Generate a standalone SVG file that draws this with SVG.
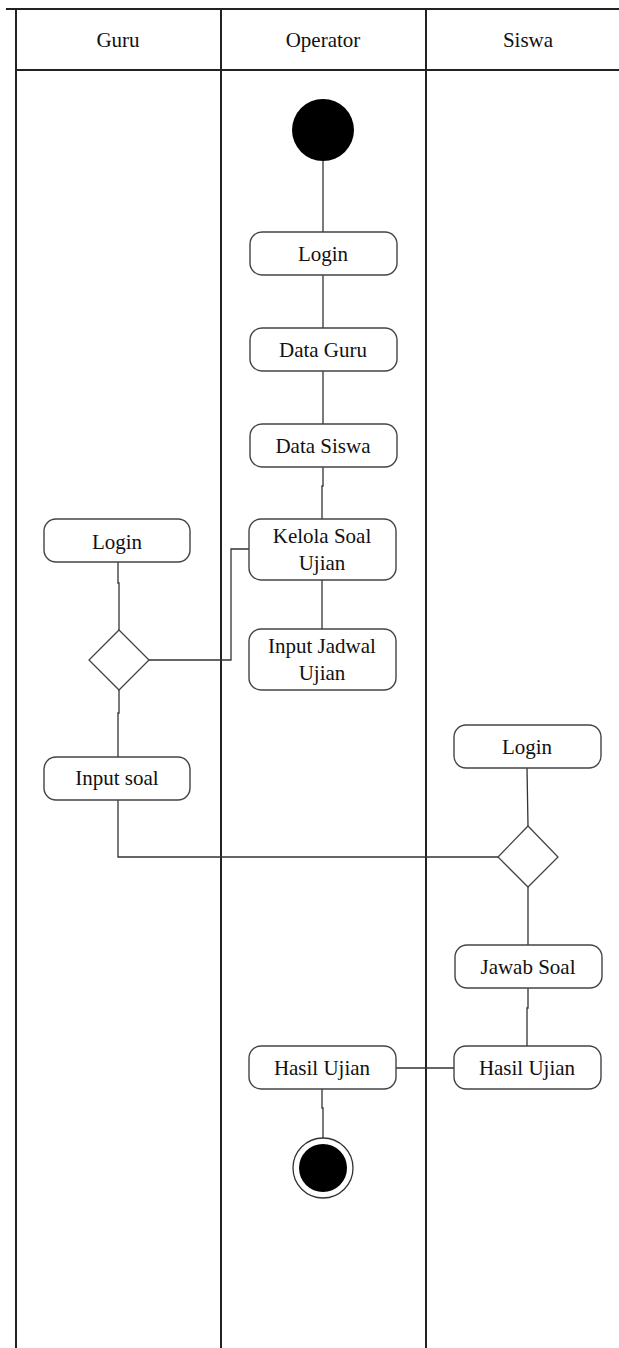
<svg xmlns="http://www.w3.org/2000/svg" width="619" height="1348" viewBox="0 0 619 1348">
<style>
.lane{stroke:#222;stroke-width:2;fill:none}
.box{fill:#fff;stroke:#444;stroke-width:1.4}
.dia{fill:#fff;stroke:#444;stroke-width:1.3}
.t{font-family:"Liberation Serif","Times New Roman",serif;font-size:21px;fill:#111;text-anchor:middle}
.c{stroke:#333;stroke-width:1.3;fill:none}
</style>
<rect width="619" height="1348" fill="#fff"/>
<g id="lanes">
<line class="lane" x1="6" y1="9" x2="619" y2="9"/>
<line class="lane" x1="16" y1="70" x2="619" y2="70"/>
<line class="lane" x1="16" y1="9" x2="16" y2="1348"/>
<line class="lane" x1="221" y1="9" x2="221" y2="1348"/>
<line class="lane" x1="426" y1="9" x2="426" y2="1348"/>
<text class="t" x="118" y="47">Guru</text>
<text class="t" x="323" y="47">Operator</text>
<text class="t" x="528" y="47">Siswa</text>
</g>
<g id="connectors">
<path class="c" d="M323 161 V232"/>
<path class="c" d="M323 275 V328"/>
<path class="c" d="M323 371 V424"/>
<path class="c" d="M323 467 V486 H322 V519"/>
<path class="c" d="M322 580 V629"/>
<path class="c" d="M118 562 V583 H119 V630"/>
<path class="c" d="M149 660 H231 V549 H249"/>
<path class="c" d="M119 690 V713 H118 V757"/>
<path class="c" d="M118 800 V857 H498"/>
<path class="c" d="M527 768 L528 826"/>
<path class="c" d="M528 887 V945"/>
<path class="c" d="M528 988 V1008 H527 V1046"/>
<path class="c" d="M396 1068 H454"/>
<path class="c" d="M322 1089 V1108 H323 V1138"/>
</g>
<g id="start"><circle cx="323" cy="130" r="31" fill="#000"/></g>
<g id="op-login"><rect class="box" x="250" y="232" width="147" height="43" rx="12"/><text class="t" x="323" y="261">Login</text></g>
<g id="data-guru"><rect class="box" x="250" y="328" width="147" height="43" rx="12"/><text class="t" x="323" y="357">Data Guru</text></g>
<g id="data-siswa"><rect class="box" x="250" y="424" width="147" height="43" rx="12"/><text class="t" x="323" y="453">Data Siswa</text></g>
<g id="kelola"><rect class="box" x="249" y="519" width="147" height="61" rx="12"/><text class="t" x="322" y="543">Kelola Soal</text><text class="t" x="322" y="570">Ujian</text></g>
<g id="jadwal"><rect class="box" x="249" y="629" width="147" height="61" rx="12"/><text class="t" x="322" y="653">Input Jadwal</text><text class="t" x="322" y="680">Ujian</text></g>
<g id="guru-login"><rect class="box" x="44" y="519" width="146" height="43" rx="12"/><text class="t" x="117" y="549">Login</text></g>
<g id="guru-decision"><polygon class="dia" points="119,630 149,660 119,690 89,660"/></g>
<g id="input-soal"><rect class="box" x="44" y="757" width="146" height="43" rx="12"/><text class="t" x="117" y="785">Input soal</text></g>
<g id="siswa-login"><rect class="box" x="454" y="725" width="147" height="43" rx="12"/><text class="t" x="527" y="754">Login</text></g>
<g id="siswa-decision"><polygon class="dia" points="528,826 558,857 528,887 498,857"/></g>
<g id="jawab"><rect class="box" x="455" y="945" width="147" height="43" rx="12"/><text class="t" x="528" y="974">Jawab Soal</text></g>
<g id="hasil-siswa"><rect class="box" x="454" y="1046" width="147" height="43" rx="12"/><text class="t" x="527" y="1075">Hasil Ujian</text></g>
<g id="hasil-op"><rect class="box" x="249" y="1046" width="147" height="43" rx="12"/><text class="t" x="322" y="1075">Hasil Ujian</text></g>
<g id="end"><circle cx="323" cy="1168" r="30" fill="#fff" stroke="#333" stroke-width="1.3"/><circle cx="323" cy="1168" r="24" fill="#000"/></g>
</svg>
